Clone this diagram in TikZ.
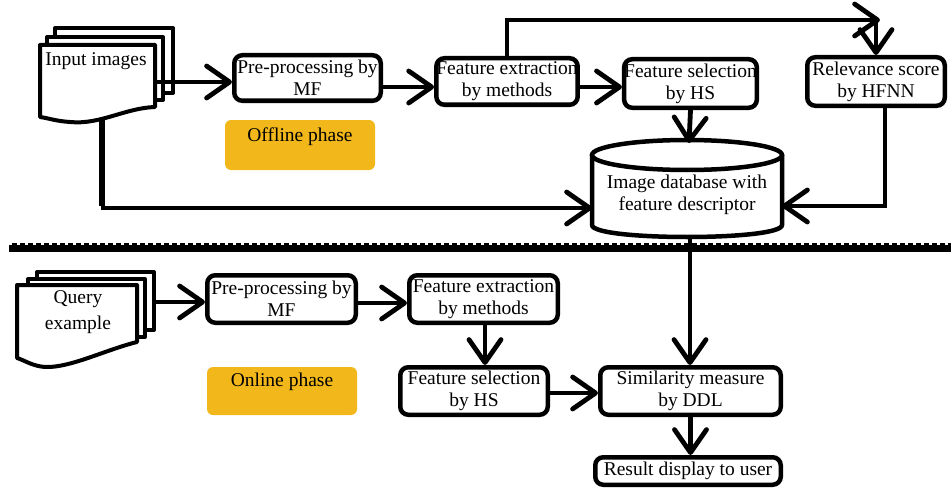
\documentclass[tikz,border=0pt]{standalone}
\usepackage{fontspec}
\setmainfont{Liberation Serif}
\usetikzlibrary{arrows.meta}
\definecolor{phase}{HTML}{F2B81B}
\begin{document}
\begin{tikzpicture}[x=1pt,y=-1pt,
  txt/.style={font=\fontsize{19.5}{22}\selectfont, align=center, inner sep=0pt},
  box/.style={txt, draw, line width=4.5pt, rounded corners=8pt, fill=white},
  arr/.style={line width=4.8pt, -{Straight Barb[length=23pt,width=32pt,round]}},
  conn/.style={line width=4.8pt},
  doc/.style={draw, line width=4pt, fill=white, line join=round},
  cyl/.style={draw, line width=4.5pt, fill=white},
  phasebox/.style={fill=phase, rounded corners=6pt, inner sep=0pt},
  ghost/.style={draw=none, inner sep=0pt}]
\useasboundingbox (0,0) rectangle (951,495);

% ---------- offline boxes ----------
\node[box, minimum width=146.5, minimum height=45.5] (pre1) at (307.5,78) {Pre-processing by\\MF};
\node[box, minimum width=137.5, minimum height=46.5] (fe1) at (507,81.5) {Feature extraction\\by methods};
\node[box, minimum width=116.5, minimum height=48.5] (fs1) at (690.5,83.5) {Feature selection\\by HS};
\node[box, minimum width=137.5, minimum height=48.5] (rel) at (876,81.5) {Relevance score\\by HFNN};

\node[phasebox, minimum width=150, minimum height=50] (off) at (300,145) {};
\node[txt] (offt) at (300,137) {Offline phase};

% ---------- database cylinder ----------
\node[ghost, minimum width=190, minimum height=97] (db) at (687,188.5) {};
\coordinate (dbtop) at (689,143);
\coordinate (dbL) at (592,208);
\coordinate (dbR) at (782,206);
\coordinate (dbB) at (690,237);
\path[cyl, draw=none] (592,155) -- (592,225) .. controls (592,241) and (782,241) .. (782,225) -- (782,155) -- cycle;
\draw[line width=4.5pt, line cap=round] (592,155) -- (592,225) .. controls (592,241) and (782,241) .. (782,225) -- (782,155);
\draw[cyl] (687,155) ellipse [x radius=95, y radius=15];
\node[txt] (dbt) at (687,195) {Image database with\\feature descriptor};

% ---------- input images stack ----------
\node[ghost, minimum width=115, minimum height=62] (in1) at (97.5,76) {};
\coordinate (inB) at (103,112);
\draw[arr] (inB) |- (dbL);
\draw[line width=3pt] (100.5,112) -- (100.5,206);
\draw[white, line width=1.2pt, dash pattern=on 1.5pt off 3pt] (105.6,120) -- (105.6,203);
\draw[doc] (55,28) rectangle (173,93);
\draw[doc] (47,37) rectangle (163,100);
\draw[doc] (40,45) -- (155,45) -- (155,107) .. controls (125,108) and (100,125) .. (70,122) .. controls (55,121) and (48,118) .. (40,117) -- cycle;
\node[txt] (int) at (96,61) {Input images};

% ---------- offline connectors ----------
\draw[arr] (in1.east |- 0,82) -- (pre1.west |- 0,82);
\draw[arr] (pre1.east |- 0,87) -- (fe1.west |- 0,87);
\draw[arr] (fe1.east |- 0,87) -- (fs1.west |- 0,87);
\coordinate (corner) at (880,20);
\draw[arr] (fe1.north) |- (corner);
\draw[arr] (rel.north |- corner) -- (rel.north);
\draw[arr] (fs1.south) -- (dbtop);
\draw[arr] ([xshift=9pt]rel.south) |- (dbR);

% ---------- separator ----------
\draw[line width=9pt] (9,247) -- (951,247);
\draw[white, line width=3pt, dash pattern=on 2.5pt off 5.5pt] (9,243) -- (951,243);

% ---------- online ----------
\node[box, minimum width=148.5, minimum height=47.5] (pre2) at (281.5,299) {Pre-processing by\\MF};
\node[box, minimum width=148.5, minimum height=47.5] (fe2) at (483.5,299) {Feature extraction\\by methods};
\node[box, minimum width=147.5, minimum height=47.5] (fs2) at (474,391) {Feature selection\\by HS};
\node[box, minimum width=180.5, minimum height=47.5] (sim) at (690.5,391) {Similarity measure\\by DDL};
\node[box, minimum width=185.5, minimum height=27.5] (res) at (688,471) {Result display to user};

\node[phasebox, minimum width=150, minimum height=48] (on) at (282,391) {};
\node[txt] (ont) at (282,382) {Online phase};

% query stack
\node[ghost, minimum width=120, minimum height=57] (q1) at (77,313.5) {};
\draw[doc] (37,272) rectangle (154,330);
\draw[doc] (28,279) rectangle (145,337);
\draw[doc] (17,285) -- (137,285) -- (137,342) .. controls (105,350) and (70,368) .. (45,367) .. controls (32,366) and (24,360) .. (17,358) -- cycle;
\node[txt] (qt) at (78,312) {Query\\[4pt]example};
\coordinate (qR) at (154,302);

% online connectors
\draw[arr] (qR) -- (pre2.west |- qR);
\draw[arr] (pre2.east |- 0,303) -- (fe2.west |- 0,303);
\draw[arr] ([xshift=1.5pt]fe2.south) -- ([xshift=1.5pt]fe2.south |- fs2.north);
\draw[arr] (fs2.east |- 0,393) -- (sim.west |- 0,393);
\draw[arr] (dbB) -- (dbB |- sim.north);
\draw[arr] (sim.south) -- (sim.south |- res.north);
\end{tikzpicture}
\end{document}
